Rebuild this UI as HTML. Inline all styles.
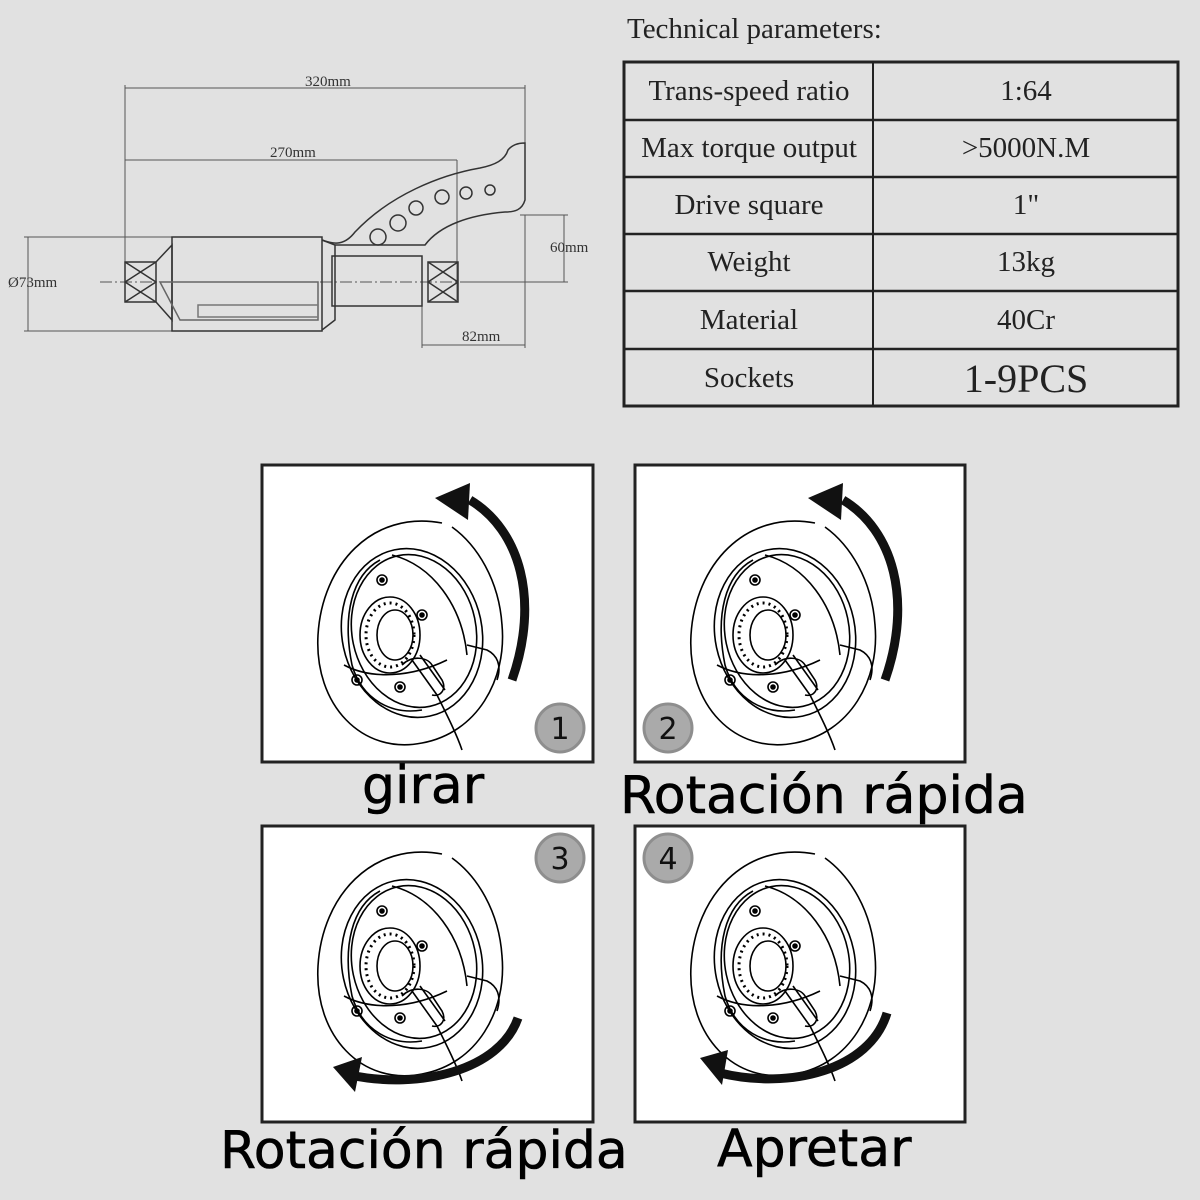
<!DOCTYPE html>
<html><head><meta charset="utf-8"><style>
html,body{margin:0;padding:0;background:#e1e1e1;}
body{width:1200px;height:1200px;position:relative;overflow:hidden;font-family:"Liberation Serif",serif;}
.abs{position:absolute;}
.cap{position:absolute;font-family:"DejaVu Sans","Liberation Sans",sans-serif;font-size:52px;color:#000;white-space:nowrap;-webkit-text-stroke:0.6px #000;}
</style></head><body>
<svg class="abs" style="left:0;top:0" width="1200" height="1200" viewBox="0 0 1200 1200">
<defs>
<g id="wheel" fill="none" stroke="#000" stroke-width="1.6">
  <path d="M180 58 C110 45 60 100 56 170 C52 240 100 290 160 278 C215 268 245 215 240 160 C237 115 215 80 190 62"/>
  <ellipse cx="150" cy="168" rx="70" ry="85" transform="rotate(-12 150 168)"/>
  <ellipse cx="152" cy="166" rx="62" ry="77" transform="rotate(-12 152 166)"/>
  <path d="M118 95 C90 110 80 150 90 200 C100 235 130 250 160 245"/>
  <path d="M130 90 C170 100 200 140 205 190"/>
  <path d="M82 200 C110 215 150 212 185 195"/>
  <ellipse cx="128" cy="170" rx="30" ry="38"/>
  <ellipse cx="133" cy="170" rx="18" ry="25"/>
  <ellipse cx="128" cy="170" rx="24" ry="32" stroke-dasharray="2 4" stroke-width="3"/>
  <circle cx="120" cy="115" r="5"/><circle cx="160" cy="150" r="5"/><circle cx="95" cy="215" r="5"/><circle cx="138" cy="222" r="5"/>
  <circle cx="120" cy="115" r="2" fill="#000"/><circle cx="160" cy="150" r="2" fill="#000"/><circle cx="95" cy="215" r="2" fill="#000"/><circle cx="138" cy="222" r="2" fill="#000"/>
  <path d="M150 195 L175 230 M158 190 L183 225 M140 200 C150 190 165 192 170 200 L180 215 C185 225 178 232 170 230"/>
  <path d="M175 230 C185 250 195 270 200 285 M205 180 L225 185 C235 190 240 200 235 215"/>
</g>
<g id="badge"><circle r="24" fill="#aaa" stroke="#8e8e8e" stroke-width="3"/></g>
</defs>

<!-- technical drawing -->
<g fill="none" stroke="#555" stroke-width="1">
  <line x1="125" y1="88" x2="525" y2="88"/><line x1="125" y1="85" x2="125" y2="300"/><line x1="525" y1="85" x2="525" y2="145"/>
  <line x1="125" y1="160" x2="457" y2="160"/><line x1="457" y1="160" x2="457" y2="300"/>
  <line x1="28" y1="237" x2="28" y2="331"/><line x1="24" y1="237" x2="175" y2="237"/><line x1="24" y1="331" x2="175" y2="331"/>
  <line x1="564" y1="215" x2="564" y2="282"/><line x1="520" y1="215" x2="568" y2="215"/><line x1="460" y1="282" x2="568" y2="282"/>
  <line x1="422" y1="345" x2="525" y2="345"/><line x1="422" y1="300" x2="422" y2="348"/><line x1="525" y1="215" x2="525" y2="348"/>
  <line x1="100" y1="282" x2="480" y2="282" stroke-dasharray="12 3 2 3"/>
</g>
<g fill="none" stroke="#333" stroke-width="1.5">
  <rect x="125" y="262" width="31" height="40"/><path d="M125 262 L156 282 M156 262 L125 282 M125 282 L156 302 M156 282 L125 302"/>
  <rect x="428" y="262" width="30" height="40"/><path d="M428 262 L458 282 M458 262 L428 282 M428 282 L458 302 M458 282 L428 302"/>
  <path d="M156 262 L172 245 L172 320 L156 302"/>
  <rect x="172" y="237" width="150" height="94"/>
  <path d="M322 240 L335 245 L335 320 L322 330"/>
  <rect x="332" y="256" width="90" height="50"/>
  <path d="M322 240 C335 245 345 245 355 232 C390 195 440 175 480 168 C495 165 505 160 508 150 C512 145 518 143 525 143 L525 200 C522 210 515 212 505 212 C470 215 440 225 425 245 L335 245"/>
  <circle cx="378" cy="237" r="8"/><circle cx="398" cy="223" r="8"/><circle cx="416" cy="208" r="7"/><circle cx="442" cy="197" r="7"/><circle cx="466" cy="193" r="6"/><circle cx="490" cy="190" r="5"/>
  <path d="M160 282 L318 282 L318 320 L180 320 Z" stroke="#666"/>
  <rect x="198" y="305" width="120" height="12" stroke="#777"/>
</g>
<g font-family="Liberation Serif,serif" font-size="15">
  <text x="305" y="86" fill="#333">320mm</text>
  <text x="270" y="157" fill="#333">270mm</text>
  <text x="8" y="287" fill="#333">Ø73mm</text>
  <text x="550" y="252" fill="#333">60mm</text>
  <text x="462" y="341" fill="#333">82mm</text>
</g>

<!-- table -->
<text x="627" y="38" font-family="Liberation Serif,serif" font-size="29" fill="#222">Technical parameters:</text>
<rect x="624" y="62" width="554" height="344" fill="none" stroke="#222" stroke-width="3"/>
<line x1="873" y1="62" x2="873" y2="406" stroke="#222" stroke-width="2"/>
<g stroke="#222" stroke-width="2.5">
<line x1="624" y1="120" x2="1178" y2="120"/><line x1="624" y1="177" x2="1178" y2="177"/><line x1="624" y1="234" x2="1178" y2="234"/><line x1="624" y1="291" x2="1178" y2="291"/><line x1="624" y1="349" x2="1178" y2="349"/>
</g>
<g font-family="Liberation Serif,serif" font-size="29" fill="#222" text-anchor="middle">
<text x="749" y="100">Trans-speed ratio</text><text x="1026" y="100">1:64</text>
<text x="749" y="157">Max torque output</text><text x="1026" y="157">&gt;5000N.M</text>
<text x="749" y="214">Drive square</text><text x="1026" y="214">1"</text>
<text x="749" y="271">Weight</text><text x="1026" y="271">13kg</text>
<text x="749" y="329">Material</text><text x="1026" y="329">40Cr</text>
<text x="749" y="387">Sockets</text><text x="1026" y="392" font-size="40">1-9PCS</text>
</g>

<!-- panels -->
<g fill="#fff" stroke="#222" stroke-width="3">
<rect x="262" y="465" width="331" height="297"/>
<rect x="635" y="465" width="330" height="297"/>
<rect x="262" y="826" width="331" height="296"/>
<rect x="635" y="826" width="330" height="296"/>
</g>
<use href="#wheel" x="262" y="465"/>
<use href="#wheel" x="635" y="465"/>
<use href="#wheel" x="262" y="796"/>
<use href="#wheel" x="635" y="796"/>

<!-- arrows -->
<g fill="none" stroke="#111" stroke-width="9">
<path d="M470 500 C520 530 540 600 512 680"/>
<path d="M843 500 C893 530 913 600 885 680"/>
<path d="M518 1018 C500 1070 420 1090 350 1075"/>
<path d="M887 1013 C870 1070 790 1090 720 1073"/>
</g>
<g fill="#111">
<polygon points="435,498 470,483 468,520"/>
<polygon points="808,498 843,483 841,520"/>
<polygon points="333,1067 362,1057 355,1092"/>
<polygon points="700,1058 728,1050 722,1085"/>
</g>

<use href="#badge" x="560" y="728"/><use href="#badge" x="668" y="728"/>
<use href="#badge" x="560" y="858"/><use href="#badge" x="668" y="858"/>
<g font-family="DejaVu Sans,Liberation Sans,sans-serif" font-size="30" text-anchor="middle" fill="#111">
<text x="560" y="739">1</text><text x="668" y="739">2</text><text x="560" y="869">3</text><text x="668" y="869">4</text>
</g>
</svg>
<div class="cap" style="left:362px;top:756px;">girar</div>
<div class="cap" style="left:620px;top:766px;">Rotación rápida</div>
<div class="cap" style="left:220px;top:1121px;">Rotación rápida</div>
<div class="cap" style="left:717px;top:1119px;">Apretar</div>
</body></html>
